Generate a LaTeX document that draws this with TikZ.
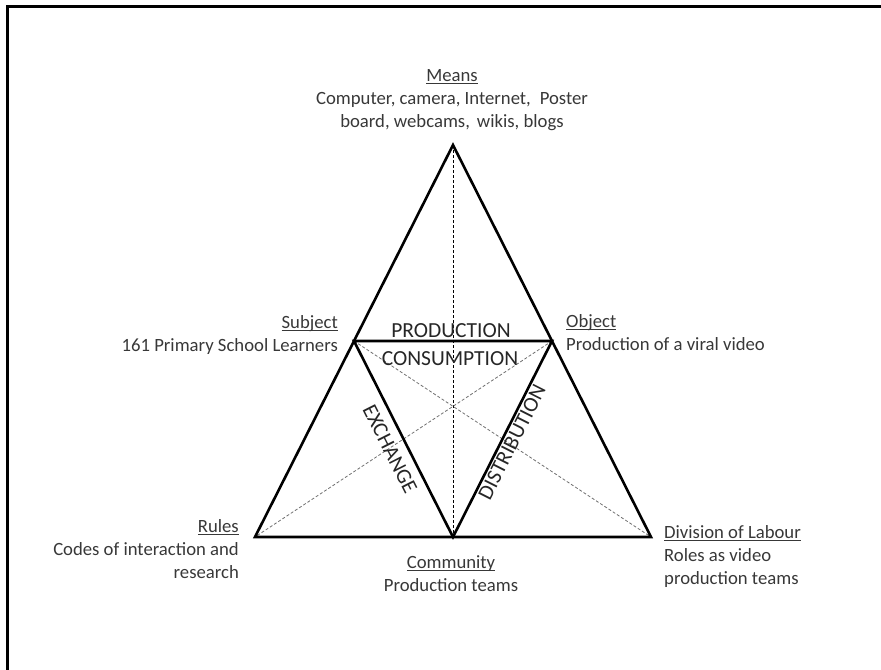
\documentclass[tikz,border=0pt]{standalone}
\usepackage{fontspec}
\setmainfont{Carlito}
\definecolor{txt}{HTML}{383838}
\definecolor{dashgray}{HTML}{707070}
% underline that sits just below the baseline, crossing descenders
\newcommand\hdul[1]{\setbox0=\hbox{#1}\leavevmode\rlap{\rule[-2.6bp]{\wd0}{0.9bp}}\box0}
\tikzset{
  frameline/.style={line width=2.6bp, draw=black},
  triline/.style={line width=2.6bp, draw=black, line join=miter},
  guide/.style={line width=0.8bp, dash pattern=on 3bp off 2bp},
  label/.style={inner sep=0pt, text=txt, font=\fontsize{18.7bp}{23bp}\selectfont},
  flow/.style={inner sep=0pt, text=black!85, font=\fontsize{21.5bp}{25bp}\selectfont},
}
\begin{document}
\begin{tikzpicture}[x=1bp,y=-1bp]
\useasboundingbox (0,0) rectangle (881,670);
\clip (0,0) rectangle (881,670);

% outer frame (runs off the right and bottom edges)
\draw[frameline] (7.5,6.7) rectangle (900,700);

% triangle corners and edge midpoints
\coordinate (A)  at (453,145);
\coordinate (L)  at (255,537);
\coordinate (R)  at (651,537);
\coordinate (ML) at (354,341);
\coordinate (MR) at (552,341);
\coordinate (MB) at (453,537);

% dashed guide lines
\draw[guide, draw=black] (A) -- (MB);
\draw[guide, draw=dashgray] (ML) -- (R);
\draw[guide, draw=dashgray] (MR) -- (L);

% outer and inner triangles
\draw[triline] (A) -- (L) -- (R) -- cycle;
\draw[triline] (ML) -- (MR) -- (MB) -- cycle;

% corner descriptions
\node[label, anchor=north, align=center] (means) at (452,65)
  {\strut\hdul{Means}\\Computer, camera, Internet,\hspace{0.25em} Poster\\board, webcams,\hspace{0.15em} wikis, blogs};
\node[label, anchor=north east, align=right] (subject) at (338,312)
  {\strut\hdul{Subject}\\161 Primary School Learners};
\node[label, anchor=north west, align=left] (object) at (566,311)
  {\strut\hdul{Object}\\Production of a viral video};
\node[label, anchor=north east, align=right] (rules) at (239,516)
  {\strut\hdul{Rules}\\Codes of interaction and\\research};
\node[label, anchor=north west, align=left] (labour) at (664,522)
  {\strut\hdul{Division of Labour}\\Roles as video\\production teams};
\node[label, anchor=north, align=center] (community) at (451,552)
  {\strut\hdul{Community}\\Production teams};

% inner-triangle labels
\node[flow, anchor=base] (production) at (451,337.5) {PRODUCTION};
\node[flow, anchor=base] (consumption) at (450,365) {CONSUMPTION};
\node[flow, rotate=-63.2] (exchange) at (390,449) {EXCHANGE};
\node[flow, rotate=63.2] (distribution) at (512,442) {DISTRIBUTION};
\end{tikzpicture}
\end{document}
